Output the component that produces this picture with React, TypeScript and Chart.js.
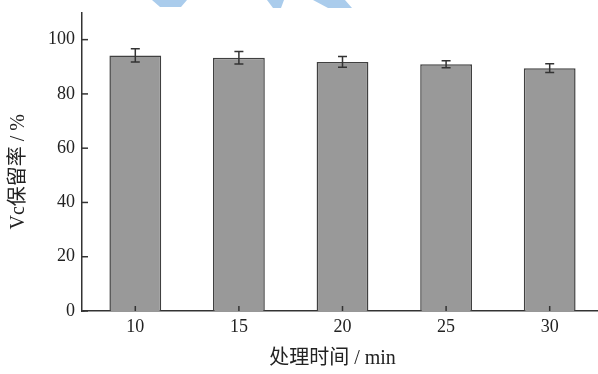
import React, { useEffect, useRef } from 'react';
import Chart from 'chart.js/auto';

const categories = ['10', '15', '20', '25', '30'];
const retention = [94.2, 93.3, 91.8, 90.9, 89.5];
const errors = [2.4, 2.3, 2.0, 1.3, 1.6];
const yTicks = [0, 20, 40, 60, 80, 100];
const xTitle = '处理时间 / min    ';
const yTitle = 'Vc保留率 / %    ';

const FONT = '"Liberation Serif", "Times New Roman", "Noto Sans CJK SC", serif';
const AXIS = '#333333';

const overlayPlugin = {
  id: 'overlay',
  afterLayout(chart: any) {
    const x = chart.scales.x;
    const left = x.left + 1.5;
    x.left = left;
    x.right = left + 518;
    x.width = 518;
    x.configure();
  },
  afterDatasetsDraw(chart: any) {
    const { ctx, scales } = chart;
    const x = scales.x;
    const y = scales.y;
    const meta = chart.getDatasetMeta(0);
    ctx.save();
    ctx.strokeStyle = AXIS;
    ctx.lineWidth = 1.5;
    meta.data.forEach((bar: any, i: number) => {
      const cx = bar.x;
      const top = y.getPixelForValue(retention[i] + errors[i]);
      const bot = y.getPixelForValue(retention[i] - errors[i]);
      ctx.beginPath();
      ctx.moveTo(cx, top);
      ctx.lineTo(cx, bot);
      ctx.moveTo(cx - 4.5, top);
      ctx.lineTo(cx + 4.5, top);
      ctx.moveTo(cx - 4.5, bot);
      ctx.lineTo(cx + 4.5, bot);
      ctx.stroke();
      ctx.beginPath();
      ctx.moveTo(cx, y.bottom);
      ctx.lineTo(cx, y.bottom - 5);
      ctx.stroke();
    });
    yTicks.forEach((v) => {
      const py = y.getPixelForValue(v);
      ctx.beginPath();
      ctx.moveTo(y.right, py);
      ctx.lineTo(y.right + 6, py);
      ctx.stroke();
    });
    // close the small gap at the axis corner
    ctx.beginPath();
    ctx.moveTo(y.right, y.bottom);
    ctx.lineTo(x.left + 1, y.bottom);
    ctx.stroke();
    ctx.restore();
  },
  afterDraw(chart: any) {
    const { ctx } = chart;
    ctx.save();
    ctx.fillStyle = 'rgb(170,204,236)';
    const shapes = [
      [[152, 0], [187, 0], [181, 7], [160, 7]],
      [[267, 0], [284, 0], [281, 8], [273, 8]],
      [[313, 0], [345, 0], [352, 8], [328, 8]],
    ];
    shapes.forEach((s) => {
      ctx.beginPath();
      ctx.moveTo(s[0][0], s[0][1]);
      for (let k = 1; k < s.length; k++) ctx.lineTo(s[k][0], s[k][1]);
      ctx.closePath();
      ctx.fill();
    });
    ctx.restore();
  },
};

export default function App() {
  const ref = useRef<HTMLCanvasElement | null>(null);
  useEffect(() => {
    if (!ref.current) return;
    const chart = new Chart(ref.current, {
      type: 'bar',
      data: {
        labels: categories,
        datasets: [
          {
            data: retention,
            backgroundColor: '#999999',
            borderColor: '#404040',
            borderWidth: 1.5,
            barPercentage: 0.5,
            categoryPercentage: 1,
          },
        ],
      },
      options: {
        responsive: false,
        animation: false,
        events: [],
        layout: { padding: { top: 12.5, right: 0, left: 0, bottom: 0 } },
        plugins: { legend: { display: false }, tooltip: { enabled: false } },
        scales: {
          x: {
            grid: { display: false, drawTicks: false },
            border: { display: true, color: AXIS, width: 1.5 },
            ticks: { color: '#222', font: { family: FONT, size: 18 }, padding: 5 },
            title: {
              display: true,
              text: xTitle,
              color: '#222',
              font: { family: FONT, size: 20 },
              padding: { top: 0, bottom: 3 },
            },
            afterFit: (s: any) => {
              s.height = 63;
              s.paddingLeft = 0;
              s.paddingRight = 0;
            },
          },
          y: {
            min: 0,
            max: 110,
            grid: { display: false, drawTicks: false },
            border: { display: true, color: AXIS, width: 1.5 },
            ticks: {
              stepSize: 20,
              includeBounds: false,
              color: '#222',
              font: { family: FONT, size: 18 },
              padding: 7,
            },
            title: {
              display: true,
              text: yTitle,
              color: '#222',
              font: { family: FONT, size: 20 },
              padding: { top: 6.5, bottom: 0 },
            },
            afterFit: (s: any) => {
              s.width = 82;
              s.paddingTop = 0;
              s.paddingBottom = 0;
            },
          },
        },
      },
      plugins: [overlayPlugin],
    } as any);
    return () => chart.destroy();
  }, []);
  return (
    <div style={{ position: 'fixed', left: 0, top: 0, width: 598, height: 374, background: '#fff' }}>
      <canvas ref={ref} width={598} height={374} style={{ width: 598, height: 374 }} />
    </div>
  );
}
